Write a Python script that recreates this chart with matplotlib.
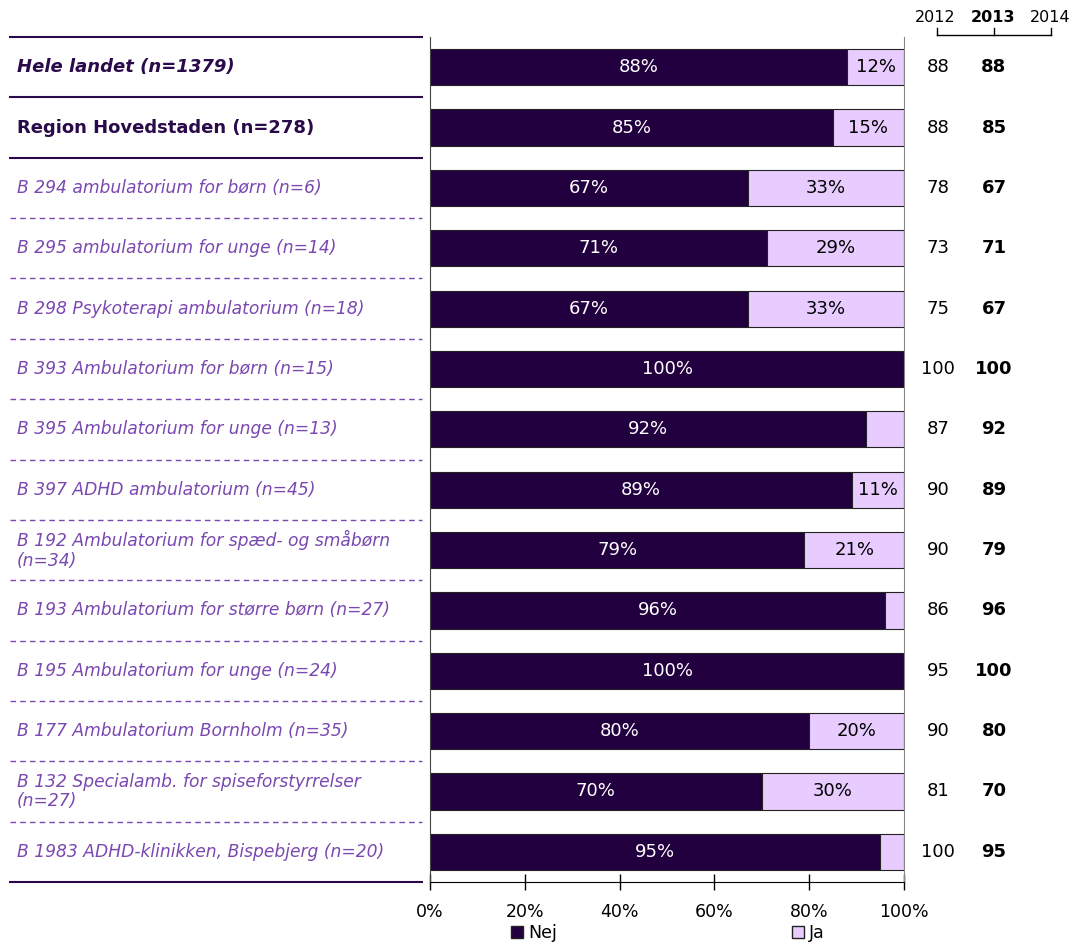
import matplotlib
matplotlib.use("Agg")
import matplotlib.pyplot as plt
import matplotlib.transforms as mtransforms
from matplotlib.patches import Patch
import numpy as np

# data
labels = [
    "Hele landet (n=1379)",
    "Region Hovedstaden (n=278)",
    "B 294 ambulatorium for børn (n=6)",
    "B 295 ambulatorium for unge (n=14)",
    "B 298 Psykoterapi ambulatorium (n=18)",
    "B 393 Ambulatorium for børn (n=15)",
    "B 395 Ambulatorium for unge (n=13)",
    "B 397 ADHD ambulatorium (n=45)",
    "B 192 Ambulatorium for spæd- og småbørn\n(n=34)",
    "B 193 Ambulatorium for større børn (n=27)",
    "B 195 Ambulatorium for unge (n=24)",
    "B 177 Ambulatorium Bornholm (n=35)",
    "B 132 Specialamb. for spiseforstyrrelser\n(n=27)",
    "B 1983 ADHD-klinikken, Bispebjerg (n=20)",
]
nej = [88, 85, 67, 71, 67, 100, 92, 89, 79, 96, 100, 80, 70, 95]
ja = [12, 15, 33, 29, 33, 0, 8, 11, 21, 4, 0, 20, 30, 5]
score_2012 = [88, 88, 78, 73, 75, 100, 87, 90, 90, 86, 95, 90, 81, 100]
score_2013 = [88, 85, 67, 71, 67, 100, 92, 89, 79, 96, 100, 80, 70, 95]
years = ["2012", "2013", "2014"]

DARK = "#220040"
LIGHT = "#e8ccff"
TXT_DARK = "#2a0a4a"
TXT_PURPLE = "#7a48b0"

fig = plt.figure(figsize=(10.72, 9.44), dpi=100)
ax = fig.add_axes([430 / 1072, 1 - 882 / 944, 474 / 1072, 845 / 944])

y = np.arange(len(labels))
ax.barh(y, nej, height=0.6, color=DARK, edgecolor="#222222", linewidth=0.8, label="Nej")
ax.barh(y, ja, left=nej, height=0.6, color=LIGHT, edgecolor="#222222", linewidth=0.8, label="Ja")

for i in range(len(labels)):
    ax.text(nej[i] / 2, i, f"{nej[i]}%", ha="center", va="center", color="white", fontsize=13)
    if ja[i] >= 10:
        ax.text(nej[i] + ja[i] / 2, i, f"{ja[i]}%", ha="center", va="center", color="black", fontsize=13)

ax.set_xlim(0, 100)
ax.set_ylim(len(labels) - 0.5, -0.5)
ax.set_yticks([])
ax.set_xticks([0, 20, 40, 60, 80, 100])
ax.set_xticklabels([f"{v}%" for v in [0, 20, 40, 60, 80, 100]], fontsize=12.5)
ax.tick_params(axis="x", direction="inout", length=12, width=1, pad=9)
ax.spines["top"].set_visible(False)
ax.spines["right"].set_color("#888888")
ax.spines["left"].set_color("#444444")
ax.spines["bottom"].set_color("black")

# left labels and separator lines
trans = mtransforms.blended_transform_factory(fig.transFigure, ax.transData)
x0, x1 = 10 / 1072, 422 / 1072
for i, lab in enumerate(labels):
    if i == 0:
        ax.text(17 / 1072, i, lab, transform=trans, ha="left", va="center",
                fontsize=13, fontweight="bold", fontstyle="italic", color=TXT_DARK)
    elif i == 1:
        ax.text(17 / 1072, i, lab, transform=trans, ha="left", va="center",
                fontsize=13, fontweight="bold", color=TXT_DARK)
    else:
        ax.text(17 / 1072, i, lab, transform=trans, ha="left", va="center",
                fontsize=12.3, fontstyle="italic", color=TXT_PURPLE, linespacing=1.12)

for b in np.arange(-0.5, len(labels), 1.0):
    if b in (-0.5, 0.5, 1.5, len(labels) - 0.5):
        ax.plot([x0, x1], [b, b], transform=trans, color=TXT_DARK, lw=1.5, clip_on=False)
    else:
        ax.plot([x0, x1], [b, b], transform=trans, color=TXT_PURPLE, lw=1,
                ls=(0, (4, 3)), clip_on=False)

# right columns with scores
for i in range(len(labels)):
    ax.text(938 / 1072, i, str(score_2012[i]), transform=trans, ha="center", va="center",
            fontsize=13, color="black")
    ax.text(994 / 1072, i, str(score_2013[i]), transform=trans, ha="center", va="center",
            fontsize=13, fontweight="bold", color="black")

# year header with bracket
hx = [935, 993, 1050]
for k, yr in enumerate(years):
    fig.text(hx[k] / 1072, 1 - 17 / 944, yr, ha="center", va="center", fontsize=11.5,
             fontweight="bold" if yr == "2013" else "normal")
by, bt = 1 - 35 / 944, 1 - 28 / 944
fig.add_artist(plt.Line2D([937 / 1072, 1051 / 1072], [by, by], color="black", lw=1))
for xp in [937, 994, 1051]:
    fig.add_artist(plt.Line2D([xp / 1072, xp / 1072], [by, bt], color="black", lw=1))

handles = [Patch(facecolor=DARK, edgecolor="#222222", label="Nej"),
           Patch(facecolor=LIGHT, edgecolor="#222222", label="Ja")]
fig.legend(handles=handles, loc="center", bbox_to_anchor=(0.623, 1 - 933 / 944), ncol=2,
           frameon=False, fontsize=12.5, handlelength=0.7, handleheight=0.7,
           handletextpad=0.3, columnspacing=13.5, borderpad=0)

fig.savefig("out.png", dpi=100)
